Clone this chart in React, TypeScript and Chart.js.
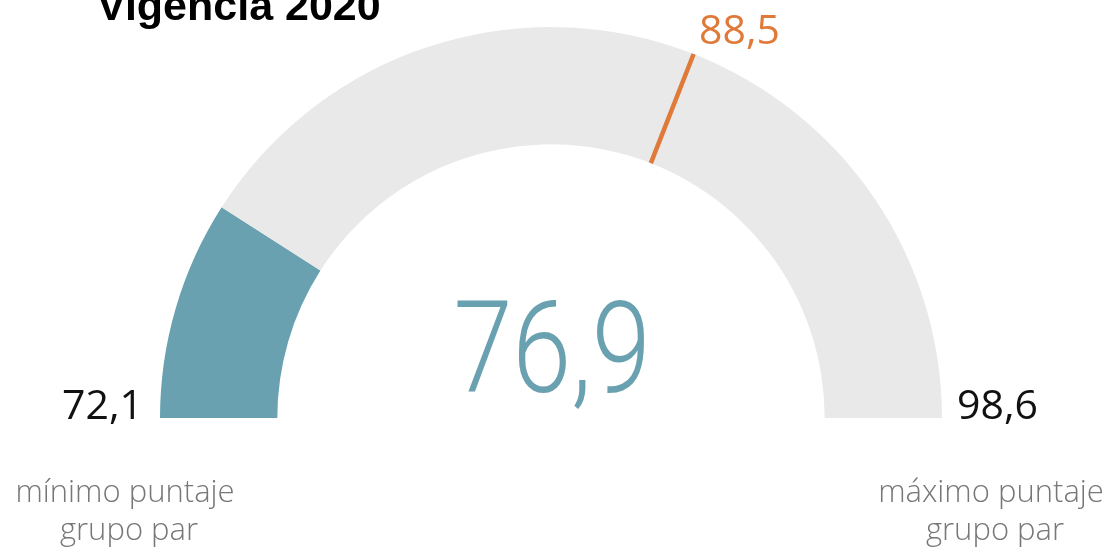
import React, { useEffect, useRef } from "react";
import { Chart, registerables } from "chart.js";

Chart.register(...registerables);

const titleText = "Vigencia 2020";
const gaugeLabels = ["Puntaje", "Restante"];
const minScore = 72.1;
const maxScore = 98.6;
const currentScore = 76.9;
const targetScore = 88.5;
const minLabelLines = ["mínimo puntaje", "grupo par"];
const maxLabelLines = ["máximo puntaje", "grupo par"];

const fmt = (v: number) => v.toFixed(1).replace(".", ",");

const TEAL = "#69a1b1";
const GREY = "#e9e9e9";
const ORANGE = "#e07a38";

const gaugeTextPlugin = {
  id: "gaugeText",
  afterDatasetsDraw(chart: any) {
    const ctx = chart.ctx;
    const arc = chart.getDatasetMeta(0).data[0];
    if (!arc) return;
    const { x, y, innerRadius, outerRadius } = arc.getProps(
      ["x", "y", "innerRadius", "outerRadius"],
      true
    );
    const frac = (targetScore - minScore) / (maxScore - minScore);
    const ang = Math.PI + frac * Math.PI;
    ctx.save();
    ctx.strokeStyle = ORANGE;
    ctx.lineWidth = 4.5;
    ctx.beginPath();
    ctx.moveTo(x + Math.cos(ang) * innerRadius, y + Math.sin(ang) * innerRadius);
    ctx.lineTo(x + Math.cos(ang) * outerRadius, y + Math.sin(ang) * outerRadius);
    ctx.stroke();

    // title
    ctx.fillStyle = "#000";
    ctx.font = "bold 43px 'Liberation Sans', Arial, sans-serif";
    ctx.textAlign = "left";
    ctx.textBaseline = "alphabetic";
    ctx.fillText(titleText, 97, 20);

    // target label
    ctx.fillStyle = ORANGE;
    ctx.font = "400 41px 'Open Sans', sans-serif";
    ctx.textAlign = "left";
    ctx.fillText(fmt(targetScore), 699, 44);

    // min / max values
    ctx.fillStyle = "#111";
    ctx.font = "400 41px 'Open Sans', sans-serif";
    ctx.textAlign = "right";
    ctx.fillText(fmt(minScore), 143, 419);
    ctx.textAlign = "left";
    ctx.fillText(fmt(maxScore), 957, 419);

    // captions
    ctx.fillStyle = "#777";
    ctx.font = "300 31px 'Open Sans', sans-serif";
    ctx.textAlign = "center";
    ctx.fillText(minLabelLines[0], 125, 502);
    ctx.fillText(minLabelLines[1], 129, 540);
    ctx.fillText(maxLabelLines[0], 991, 502);
    ctx.fillText(maxLabelLines[1], 995, 540);

    // center value
    ctx.fillStyle = TEAL;
    ctx.font = "300 128px Roboto, sans-serif";
    ctx.textAlign = "center";
    ctx.translate(x + 1, 392);
    ctx.scale(0.83, 1);
    ctx.fillText(fmt(currentScore), 0, 0);
    ctx.restore();
  },
};

export default function App() {
  const canvasRef = useRef<HTMLCanvasElement | null>(null);

  useEffect(() => {
    document.body.style.margin = "0";
    const canvas = canvasRef.current;
    if (!canvas) return;
    const chart = new Chart(canvas, {
      type: "doughnut",
      data: {
        labels: gaugeLabels,
        datasets: [
          {
            data: [currentScore - minScore, maxScore - currentScore],
            backgroundColor: [TEAL, GREY],
            borderWidth: 0,
            hoverOffset: 0,
          },
        ],
      },
      options: {
        animation: false,
        responsive: false,
        maintainAspectRatio: false,
        rotation: -90,
        circumference: 180,
        cutout: "70%",
        layout: { padding: { left: 160, right: 170, top: 27, bottom: 133 } },
        plugins: {
          legend: { display: false },
          tooltip: { enabled: false },
          title: { display: false },
        },
        events: [],
      },
      plugins: [gaugeTextPlugin],
    });
    return () => chart.destroy();
  }, []);

  return (
    <div style={{ position: "absolute", left: 0, top: 0, width: 1112, height: 551, background: "#fff" }}>
      <canvas ref={canvasRef} width={1112} height={551} style={{ width: 1112, height: 551, display: "block" }} />
    </div>
  );
}
